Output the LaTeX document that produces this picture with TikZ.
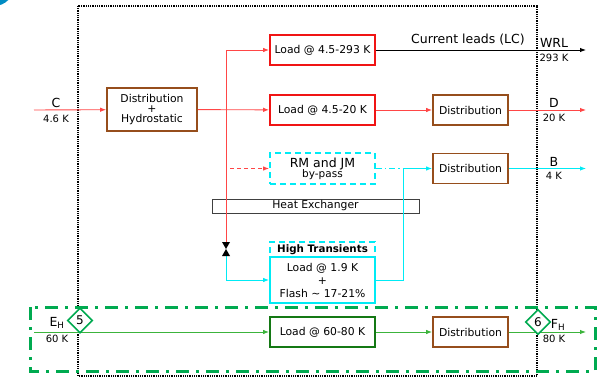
\documentclass[tikz,border=0pt]{standalone}
\usepackage{fontspec}
\setmainfont{DejaVu Sans}
\usepackage{xcolor}
\usetikzlibrary{arrows.meta,positioning,shapes.geometric,calc}
\definecolor{loadred}{RGB}{240,20,20}
\definecolor{linered}{RGB}{255,70,70}
\definecolor{distbrown}{RGB}{150,78,28}
\definecolor{hecyan}{RGB}{0,235,245}
\definecolor{framegreen}{RGB}{0,170,80}
\definecolor{boxgreen}{RGB}{20,120,20}
\definecolor{linegreen}{RGB}{60,180,60}
\definecolor{cornerblue}{RGB}{0,140,195}

\begin{document}
\begin{tikzpicture}[
    x=1pt, y=-1pt,
    box/.style={
      rectangle, line width=1.8pt, fill=white, align=center,
      inner sep=1pt, font=\fontsize{10.8}{12}\selectfont
    },
    loadbox/.style={box, draw=loadred, minimum width=105, minimum height=30},
    distbox/.style={box, draw=distbrown, minimum width=75, minimum height=30},
    bypassbox/.style={box, draw=hecyan, dashed, dash pattern=on 6pt off 4pt,
      minimum width=105, minimum height=31},
    htlabel/.style={box, draw=hecyan, dashed, dash pattern=on 6pt off 4pt,
      minimum width=105, minimum height=15, font=\fontsize{10.3}{11}\bfseries},
    htbox/.style={box, draw=hecyan, minimum width=105, minimum height=46,
      font=\fontsize{10.8}{13}\selectfont},
    lowbox/.style={box, draw=boxgreen, minimum width=105, minimum height=30},
    hxbox/.style={rectangle, draw=black!75, line width=0.8pt, minimum width=207,
      minimum height=14, inner sep=0pt, font=\fontsize{10.8}{12}\selectfont},
    numdiam/.style={diamond, draw=framegreen, fill=white, line width=1.6pt,
      minimum width=25, minimum height=25, inner sep=0pt,
      font=\fontsize{12}{12}\selectfont},
    tname/.style={inner sep=0pt, font=\fontsize{12.5}{13}\selectfont},
    ttemp/.style={inner sep=0pt, font=\fontsize{10}{11}\selectfont},
    arrow/.style={-{Latex[length=6pt,width=4.5pt]}},
    redln/.style={draw=linered, line width=0.9pt},
    cyanln/.style={draw=hecyan, line width=0.9pt},
    greenln/.style={draw=linegreen, line width=0.9pt},
    blackln/.style={draw=black, line width=0.9pt}
  ]
  \useasboundingbox (0,0) rectangle (602,382);
  \begin{scope}
    \clip (0,0) rectangle (602,382);
    \fill[cornerblue] (-6,-14) circle (20);
  \end{scope}

  \draw[line width=1.3pt, dash pattern=on 1pt off 0.8pt] (78,6) rectangle (537,376);
  \draw[framegreen, line width=3pt, dash pattern=on 13pt off 7pt on 3pt off 7pt]
    (30,307) rectangle (595,371);

  \node[loadbox]   (lwrl)  at (322.5,50)    {Load @ 4.5-293 K};
  \node[loadbox]   (ld)    at (322.5,110)   {Load @ 4.5-20 K};
  \node[distbox, minimum width=90, minimum height=43,
        font=\fontsize{10.8}{9.8}\selectfont] (hyd) at (152,109.5)
        {Distribution\\+\\Hydrostatic};
  \node[distbox]   (distd) at (470.5,110)   {Distribution};
  \node[distbox]   (distb) at (470.5,168.5) {Distribution};
  \node[bypassbox] (rmjm)  at (322.5,168.5)
        {{\fontsize{12.5}{13}\selectfont RM and JM}\\[-2pt]{\fontsize{10.5}{11}\selectfont by-pass}};
  \node[hxbox]     (hx)    at (315.5,206)   {Heat Exchanger};
  \node[htlabel]   (htl)   at (322.5,249.5) {High Transients};
  \node[htbox]     (ht)    at (322.5,280)
        {Load @ 1.9 K\\+\\Flash \textasciitilde{} 17-21\%};
  \node[lowbox]    (l6080) at (322.5,332)   {Load @ 60-80 K};
  \node[distbox]   (diste) at (470.5,332)   {Distribution};

  \coordinate (cin)    at (34,110);
  \coordinate (wrlout) at (586,50);
  \coordinate (dout)   at (586,110);
  \coordinate (bout)   at (586,168.5);
  \coordinate (ein)    at (34,332);
  \coordinate (fout)   at (586,332);
  \coordinate (bpin)   at (230,168.5);
  \coordinate (cj)     at (403,168.5);
  \coordinate (vlvtop) at (226,242);
  \coordinate (vlvbot) at (226,256);

  \draw[redln, arrow] (cin) -- (hyd);
  \draw[redln, arrow] (hyd) -- (ld);
  \draw[redln, arrow] (vlvtop) |- (lwrl);
  \draw[redln, arrow, dash pattern=on 4pt off 3pt] (bpin) -- (rmjm);
  \draw[redln, arrow] (ld) -- (distd);
  \draw[redln, arrow] (distd) -- (dout);
  \draw[blackln, arrow] (lwrl) -- (wrlout);

  \draw[cyanln, dash pattern=on 6pt off 3pt on 1.5pt off 3pt] (rmjm) -- (cj);
  \draw[cyanln] (ht) -| (cj);
  \draw[cyanln, arrow] (cj) -- (distb);
  \draw[cyanln, arrow] (vlvbot) |- (ht);
  \draw[cyanln, arrow] (distb) -- (bout);

  \fill[black] ($(vlvtop)+(-4,0)$) -- ($(vlvtop)+(4,0)$)
    -- ($(vlvbot)+(-4,0)$) -- ($(vlvbot)+(4,0)$) -- cycle;

  \draw[greenln, arrow] (ein) -- (l6080);
  \draw[greenln, arrow] (l6080) -- (diste);
  \draw[greenln, arrow] (diste) -- (fout);

  \node[numdiam] (d5) at (80,320.5) {5};
  \node[numdiam] (d6) at (538,322)  {6};

  \node[tname] (lcname) at (468,40)  {Current leads (LC)};
  \node[tname] (cname)  at (56,102.5) {C};
  \node[ttemp] (ctemp)  at (56,118.5) {4.6 K};
  \node[tname] (wname)  at (554,43)  {WRL};
  \node[ttemp] (wtemp)  at (554,57.5) {293 K};
  \node[tname] (dname)  at (554,103) {D};
  \node[ttemp] (dtemp)  at (554,117.5) {20 K};
  \node[tname] (bname)  at (554,162) {B};
  \node[ttemp] (btemp)  at (554,176) {4 K};
  \node[tname] (ename)  at (57,323)  {E\textsubscript{H}};
  \node[ttemp] (etemp)  at (57,339)  {60 K};
  \node[tname] (fname)  at (558,325) {F\textsubscript{H}};
  \node[ttemp] (ftemp)  at (554,339) {80 K};
\end{tikzpicture}
\end{document}
